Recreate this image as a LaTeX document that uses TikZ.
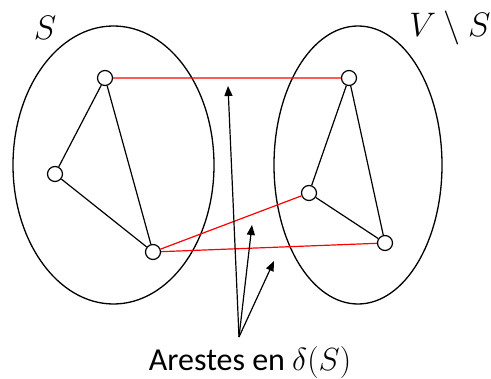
\RequirePackage{fix-cm}
\documentclass[tikz,border=0pt]{standalone}
\usepackage{fontspec}
\setsansfont{Carlito}
\usetikzlibrary{arrows.meta}
\begin{document}
\begin{tikzpicture}[x=1pt,y=-1pt,
  vert/.style={circle,draw,line width=1.2pt,fill=white,inner sep=0pt,minimum size=15pt},
  inner/.style={line width=1.2pt,black},
  cut/.style={line width=1.2pt,red},
  pointer/.style={line width=1.2pt,-{Triangle[length=10pt,width=8pt]}},
  set/.style={line width=1.3pt}]
\useasboundingbox (0,0) rectangle (491,379);
\draw[set] (113.5,165) ellipse [x radius=100.5, y radius=139];
\draw[set] (358,165) ellipse [x radius=84, y radius=139];
\node[vert] (A) at (105,78) {};
\node[vert] (B) at (55,174) {};
\node[vert] (C) at (153,252) {};
\node[vert] (D) at (349,78) {};
\node[vert] (E) at (309,193) {};
\node[vert] (F) at (385,243) {};
\draw[inner] (A) -- (B) (B) -- (C) (A) -- (C);
\draw[inner] (D) -- (E) (E) -- (F) (D) -- (F);
\draw[cut] (A) -- (D) (C) -- (E) (C) -- (F);
\node[font=\fontsize{34}{40}\selectfont] (lS) at (45,28) {$S$};
\node[font=\fontsize{34}{40}\selectfont] (lVS) at (450,28) {$V\setminus S$};
\node[font=\fontsize{32}{38}\selectfont\sffamily,anchor=base] (lab) at (250,371) {Arestes en $\delta(S)$};
\coordinate (base) at (239,337);
\coordinate (t1) at (228,86);
\coordinate (t2) at (252,225);
\coordinate (t3) at (274,261);
\draw[pointer] (base) -- (t1);
\draw[pointer] (base) -- (t2);
\draw[pointer] (base) -- (t3);
\end{tikzpicture}
\end{document}
